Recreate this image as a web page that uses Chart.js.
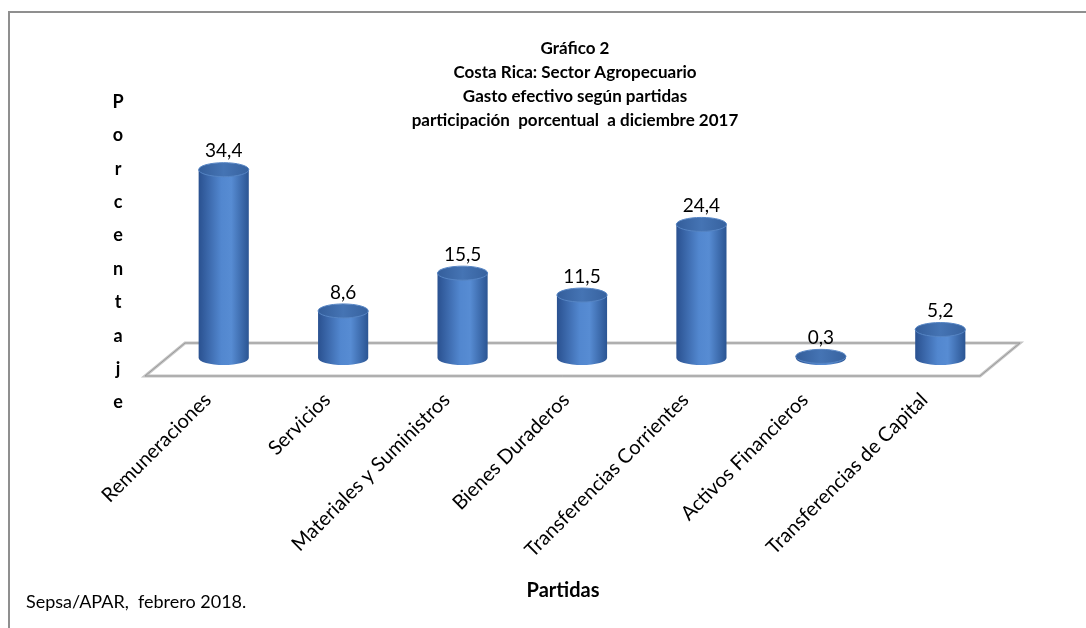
<!DOCTYPE html>
<html lang="es">
<head>
  <meta charset="UTF-8" />
  <title>Gráfico 2</title>
  <script src="https://cdn.jsdelivr.net/npm/chart.js"></script>
  <style>
    html, body { margin: 0; padding: 0; background: #fff; }
    #wrap { width: 1086px; height: 628px; }
  </style>
</head>
<body>
  <div id="wrap"><canvas id="gastoChart"></canvas></div>

  <script>
    const partidas = ["Remuneraciones", "Servicios", "Materiales y Suministros", "Bienes Duraderos",
                      "Transferencias Corrientes", "Activos Financieros", "Transferencias de Capital"];
    const porcentajes = [34.4, 8.6, 15.5, 11.5, 24.4, 0.3, 5.2];
    const tituloLineas = ["Gráfico 2", "Costa Rica: Sector Agropecuario", "Gasto efectivo según partidas",
                          "participación  porcentual  a diciembre 2017"];
    const ejeY = "Porcentaje";
    const ejeX = "Partidas";
    const fuente = "Sepsa/APAR,  febrero 2018.";

    const FONT = "Lato";

    // cylinders, floor and loose texts
    const cilindros = {
      id: "cilindros",
      beforeDatasetsDraw(chart) {
        const { ctx, chartArea, scales } = chart;
        const y0 = scales.y.getPixelForValue(0);
        ctx.save();
        ctx.beginPath();
        ctx.moveTo(chartArea.left + 21, y0 - 15);
        ctx.lineTo(chartArea.right + 20, y0 - 15);
        ctx.lineTo(chartArea.right - 20, y0 + 18);
        ctx.lineTo(chartArea.left - 19, y0 + 18);
        ctx.closePath();
        ctx.fillStyle = "#fff";
        ctx.fill();
        ctx.strokeStyle = "#c4c4c4";
        ctx.lineWidth = 3;
        ctx.stroke();
        ctx.strokeStyle = "#9a9a9a";
        ctx.lineWidth = 1;
        ctx.stroke();
        ctx.restore();
      },
      afterDatasetsDraw(chart) {
        const { ctx } = chart;
        const meta = chart.getDatasetMeta(0);
        ctx.save();
        meta.data.forEach((bar, i) => {
          const x = bar.x, top = bar.y, base = bar.base;
          const rx = bar.width / 2, ry = 7;

          const g = ctx.createLinearGradient(x - rx, 0, x + rx, 0);
          g.addColorStop(0, "#2a5190");
          g.addColorStop(0.45, "#5287cf");
          g.addColorStop(0.65, "#578cd3");
          g.addColorStop(1, "#2b5593");
          ctx.beginPath();
          ctx.moveTo(x - rx, top);
          ctx.lineTo(x - rx, base);
          ctx.ellipse(x, base, rx, ry, 0, Math.PI, 0, true);
          ctx.lineTo(x + rx, top);
          ctx.closePath();
          ctx.fillStyle = g;
          ctx.fill();

          const gt = ctx.createLinearGradient(x - rx, 0, x + rx, 0);
          gt.addColorStop(0, "#345e9b");
          gt.addColorStop(0.5, "#4574b4");
          gt.addColorStop(1, "#37629f");
          ctx.beginPath();
          ctx.ellipse(x, top, rx, ry, 0, 0, Math.PI * 2);
          ctx.fillStyle = gt;
          ctx.fill();
          ctx.strokeStyle = "#5685c4";
          ctx.lineWidth = 1;
          ctx.stroke();

          ctx.fillStyle = "#000";
          ctx.font = "19px " + FONT;
          ctx.textAlign = "center";
          ctx.textBaseline = "bottom";
          ctx.fillText(porcentajes[i].toFixed(1).replace(".", ","), x, top - ry - 2);
        });
        ctx.restore();
      },
      afterDraw(chart) {
        const { ctx, width, height } = chart;
        ctx.save();
        // frame (only top and left edges visible)
        ctx.strokeStyle = "#8f8f8f";
        ctx.lineWidth = 2;
        ctx.beginPath();
        ctx.moveTo(9, height);
        ctx.lineTo(9, 12);
        ctx.lineTo(width, 12);
        ctx.stroke();

        // vertical stacked y title
        ctx.fillStyle = "#000";
        ctx.font = "bold 18px " + FONT;
        ctx.textAlign = "center";
        ctx.textBaseline = "middle";
        ejeY.split("").forEach((c, k) => ctx.fillText(c, 118, 102 + k * 33.4));

        // x title
        ctx.font = "bold 20px " + FONT;
        ctx.fillText(ejeX, 563, 591);

        ctx.font = "18px " + FONT;
        ctx.textAlign = "left";
        ctx.fillText(fuente, 26, 602);
        ctx.restore();
      }
    };

    new Chart(document.getElementById("gastoChart"), {
      type: "bar",
      data: {
        labels: partidas,
        datasets: [{
          data: porcentajes,
          backgroundColor: "rgba(0,0,0,0)",
          borderWidth: 0,
          barPercentage: 0.42,
          categoryPercentage: 1
        }]
      },
      options: {
        responsive: true,
        maintainAspectRatio: false,
        animation: false,
        layout: { padding: { left: 150, right: 86, top: 0, bottom: 0 } },
        plugins: {
          legend: { display: false },
          tooltip: { enabled: false },
          title: {
            display: true,
            text: tituloLineas,
            color: "#000",
            font: { family: FONT, size: 17, weight: "bold", lineHeight: 24 / 17 },
            padding: { top: 37, bottom: 6 }
          }
        },
        scales: {
          x: {
            grid: { display: false, drawTicks: false },
            border: { display: false },
            ticks: {
              color: "#000",
              font: { family: FONT, size: 20 },
              minRotation: 45,
              maxRotation: 45,
              autoSkip: false,
              padding: 30,
              labelOffset: -16
            },
            afterFit(s) { s.height = 270; }
          },
          y: {
            min: 0,
            max: 40,
            grid: { display: false, drawTicks: false },
            border: { display: false },
            ticks: { display: false },
            afterFit(s) { s.width = 14; }
          }
        }
      },
      plugins: [cilindros]
    });
  </script>
</body>
</html>
